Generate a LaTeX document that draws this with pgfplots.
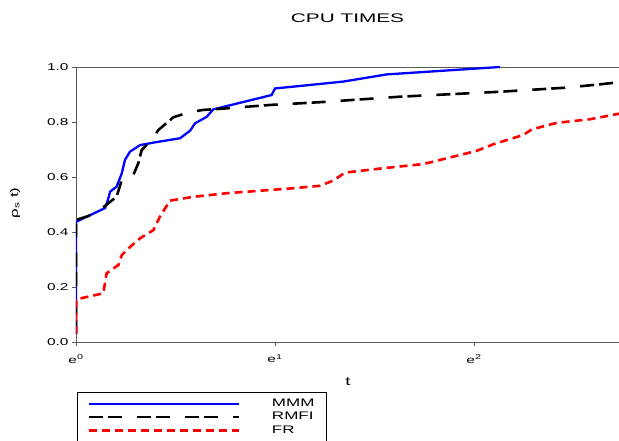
\documentclass[border=0pt]{standalone}
\usepackage{pgfplots}
\pgfplotsset{compat=1.18}
\usepackage{fontspec}
\setmainfont{Liberation Sans}[FakeStretch=1.55]
\newfontfamily\titlefont{Liberation Sans}[FakeStretch=1.67]
\definecolor{axgray}{RGB}{90,90,90}

\begin{document}
\begin{tikzpicture}
\begin{axis}[
    scale only axis,
    width=550bp, height=275bp,
    at={(0,0)}, anchor=south west,
    xmin=0, xmax=2.764,
    ymin=0, ymax=1,
    xtick={0,1,2},
    xticklabels={e\textsuperscript{0},e\textsuperscript{1},e\textsuperscript{2}},
    xticklabel style={yshift=-5bp},
    ytick={0,0.2,0.4,0.6,0.8,1.0},
    yticklabel style={/pgf/number format/fixed, /pgf/number format/fixed zerofill, /pgf/number format/precision=1},
    /pgf/number format/assume math mode=true,
    tick label style={font=\fontsize{10}{12}\selectfont},
    tick align=outside, tick pos=left,
    major tick length=4bp,
    axis line style={axgray, line width=0.9bp},
    every tick/.style={axgray, line width=0.9bp},
    legend style={at={(0,0)}, anchor=north west, xshift=1bp, yshift=-50bp,
        draw=black, line width=0.8bp,
        font=\fontsize{11}{13}\selectfont,
        column sep=30bp, row sep=0pt,
        inner xsep=10bp, inner ysep=4.5bp,
        nodes={inner ysep=1.25bp, text height=8bp, text depth=3bp}},
    legend cell align=left,
    legend image code/.code={\draw[#1] (0bp,0bp) -- (150bp,0bp);},
]
\addplot[blue, line width=2.3bp] coordinates {
    (0,0.03) (0,0.437) (0.146,0.487) (0.16,0.516) (0.172,0.547) (0.204,0.565)
    (0.23,0.613) (0.246,0.662) (0.271,0.692) (0.322,0.716) (0.389,0.725)
    (0.523,0.741) (0.573,0.768) (0.598,0.795) (0.657,0.819) (0.69,0.846)
    (0.983,0.898) (1.0,0.922) (1.126,0.931) (1.343,0.947) (1.561,0.973) (2.13,1.0)
};
\addlegendentry{MMM}
\addplot[black, line width=2.6bp, dash pattern=on 14bp off 5bp on 14bp off 15bp] coordinates {
    (0,0.03) (0,0.444) (0.062,0.458) (0.137,0.49) (0.204,0.528) (0.23,0.589)
    (0.288,0.607) (0.313,0.65) (0.33,0.698) (0.38,0.735) (0.414,0.771)
    (0.489,0.817) (0.565,0.835) (0.64,0.844) (0.707,0.847) (0.975,0.862)
    (1.226,0.872) (1.628,0.892) (2.13,0.91) (2.466,0.925) (2.633,0.937) (2.764,0.947)
};
\addlegendentry{RMFI}
\addplot[red, line width=2.6bp, dash pattern=on 8bp off 5bp] coordinates {
    (0,0.03) (0,0.155) (0.137,0.177) (0.154,0.25) (0.213,0.28) (0.23,0.316)
    (0.263,0.34) (0.322,0.377) (0.389,0.407) (0.422,0.456) (0.472,0.514)
    (0.59,0.528) (0.757,0.541) (1.09,0.559) (1.226,0.568) (1.293,0.587)
    (1.352,0.616) (1.544,0.632) (1.745,0.647) (1.846,0.665) (2.013,0.695)
    (2.097,0.719) (2.248,0.753) (2.29,0.773) (2.416,0.797) (2.583,0.81) (2.764,0.835)
};
\addlegendentry{FR}
\end{axis}
\node[font=\titlefont\fontsize{12.5}{14}\selectfont] at (271.5bp,324bp) {CPU TIMES};
\node[font=\fontsize{12}{14}\selectfont] at (272bp,-39.5bp) {t};
\node[rotate=90, font=\fontsize{11}{13}\selectfont] at (-61bp,139bp) {ρ\textsubscript{s} t)};
\pgfresetboundingbox
\path[use as bounding box] (-76bp,-99bp) rectangle (543bp,342bp);
\end{tikzpicture}
\end{document}
